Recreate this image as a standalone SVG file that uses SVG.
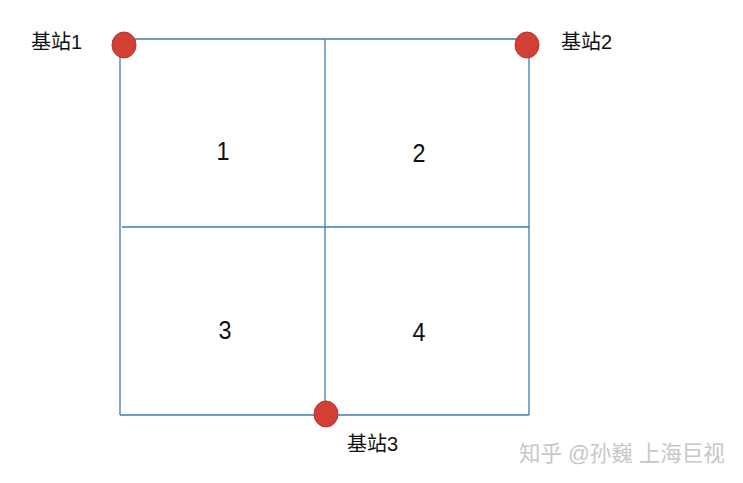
<svg xmlns="http://www.w3.org/2000/svg" width="743" height="483" viewBox="0 0 743 483">
<style>
.ln{stroke:#3d7bb0;stroke-width:1.3;fill:none}
.st{fill:#d23f35;stroke:#b8342c;stroke-width:1}
.lb{font-family:"Liberation Sans","Noto Sans CJK SC",sans-serif;font-size:20px;fill:#111}
.num{font-family:"Liberation Sans",sans-serif;font-size:26px;fill:#111;text-anchor:middle}
.wm{font-family:"Liberation Sans","Noto Sans CJK SC",sans-serif;font-size:21.5px;fill:#c8c8c8}
</style>
<rect width="743" height="483" fill="#fff"/>
<g id="connectors">
<line class="ln" x1="120" y1="39" x2="529" y2="39"/>
<line class="ln" x1="120" y1="39" x2="120" y2="415"/>
<line class="ln" x1="529" y1="39" x2="529" y2="415"/>
<line class="ln" x1="120" y1="415" x2="529" y2="415"/>
<line class="ln" x1="325" y1="39" x2="325" y2="415"/>
<line class="ln" x1="122" y1="227" x2="529" y2="227"/>
</g>
<g id="cell1"><text class="num" x="223" y="160" transform="translate(223 0) scale(0.9 1) translate(-223 0)">1</text></g>
<g id="cell2"><text class="num" x="419" y="162" transform="translate(419 0) scale(0.9 1) translate(-419 0)">2</text></g>
<g id="cell3"><text class="num" x="225" y="339" transform="translate(225 0) scale(0.9 1) translate(-225 0)">3</text></g>
<g id="cell4"><text class="num" x="419" y="341" transform="translate(419 0) scale(0.9 1) translate(-419 0)">4</text></g>
<g id="bs1"><ellipse class="st" cx="124" cy="45" rx="12" ry="13"/><text class="lb" x="31" y="49">基站1</text></g>
<g id="bs2"><ellipse class="st" cx="527" cy="45" rx="12" ry="13"/><text class="lb" x="561" y="49">基站2</text></g>
<g id="bs3"><ellipse class="st" cx="326" cy="414" rx="12" ry="13"/><text class="lb" x="347" y="451">基站3</text></g>
<text class="wm" x="519" y="461">知乎 @孙巍 上海巨视</text>
</svg>
